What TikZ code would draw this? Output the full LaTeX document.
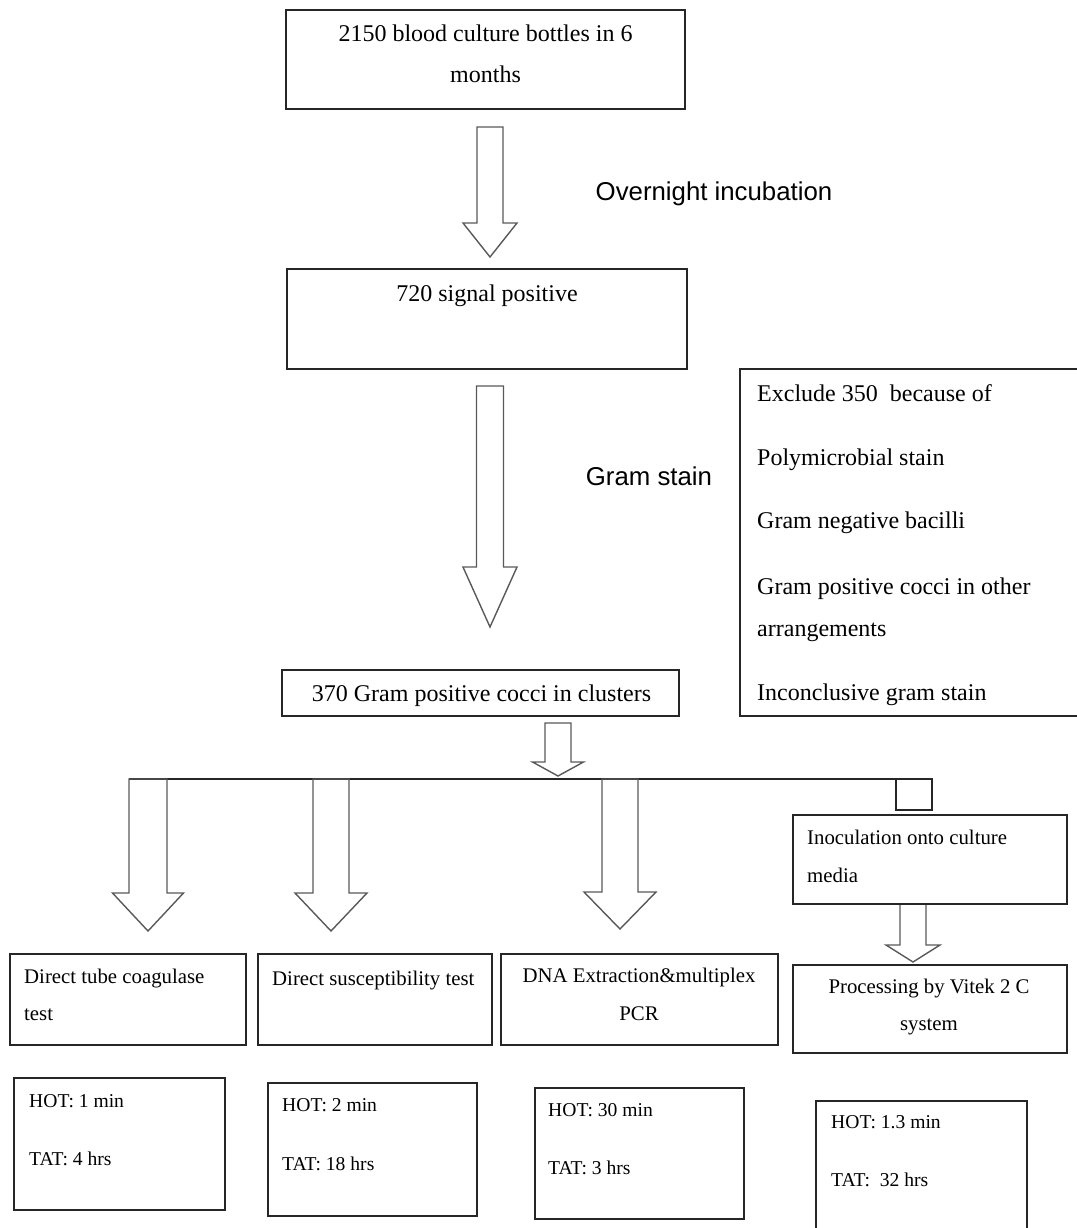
\documentclass[tikz,border=0pt]{standalone}
\usepackage{fontspec}
\setmainfont{Liberation Serif}
\newfontfamily\sansf{Liberation Sans}
\newcommand\blockarr[6]{% cx, half shaft, ytop, yhead, half wing, ytip
  \draw[arr] (#1-#2,#3) -- (#1+#2,#3) -- (#1+#2,#4) -- (#1+#5,#4) -- (#1,#6) -- (#1-#5,#4) -- (#1-#2,#4) -- cycle;}
\begin{document}
\begin{tikzpicture}[x=1pt,y=-1pt,
  box/.style={draw=black!85, line width=1.2pt, inner sep=0pt, fill=none},
  arr/.style={draw=black!65, line width=1.4pt, line join=miter},
  tbig/.style={font=\fontsize{24}{28}\selectfont, inner sep=0pt, anchor=base},
  tbigw/.style={tbig, anchor=base west},
  tmid/.style={font=\fontsize{20.8}{25}\selectfont, inner sep=0pt, anchor=base},
  tmidw/.style={tmid, anchor=base west},
  tsm/.style={font=\fontsize{19.6}{24}\selectfont, inner sep=0pt, anchor=base west},
  tsans/.style={font=\sansf\fontsize{25.8}{30}\selectfont, inner sep=0pt, anchor=base}]
\useasboundingbox (0,0) rectangle (1076,1228);

% main boxes
\node[box, minimum width=399pt, minimum height=99pt] (b1) at (485.5,59.5) {};
\node[tbig] (t1a) at (485.5,42) {2150 blood culture bottles in 6};
\node[tbig] (t1b) at (485.5,83) {months};

\node[box, minimum width=400pt, minimum height=100pt] (b2) at (487,319) {};
\node[tbig] (t2) at (487,301) {720 signal positive};

\node[box, minimum width=397pt, minimum height=46pt] (b3) at (480.5,693) {};
\node[tbig] (t3) at (481.5,701) {370 Gram positive cocci in clusters};

% exclude box (open on the right)
\draw[box] (1080,369) -- (740,369) -- (740,716) -- (1080,716);
\node[tbigw] (e1) at (757,401) {Exclude 350\ \ because of};
\node[tbigw] (e2) at (757,465) {Polymicrobial stain};
\node[tbigw] (e3) at (757,528) {Gram negative bacilli};
\node[tbigw] (e4) at (757,594) {Gram positive cocci in other};
\node[tbigw] (e5) at (757,636) {arrangements};
\node[tbigw] (e6) at (757,700) {Inconclusive gram stain};

% labels
\node[tsans] (lov) at (714,200) {Overnight incubation};
\node[tsans] (lgs) at (649,485) {Gram stain};

% main arrows
\blockarr{490}{13}{127}{223}{27}{257}
\blockarr{490}{13.5}{386}{567}{27}{627}
\blockarr{558}{13}{723}{762}{25.5}{776}

% branch line and small square
\coordinate (hl) at (129,779);
\coordinate (hr) at (932,779);
\draw[box] (hl) -- (hr);
\draw[box] (896,779) rectangle (932,810);

% branch arrows
\blockarr{148}{19}{779}{893}{35.5}{931}
\blockarr{331}{18}{779}{893}{36}{931}
\blockarr{620}{18}{779}{892}{36}{929}
\blockarr{913}{13}{904}{945}{27}{962}

% right column
\node[box, minimum width=274pt, minimum height=89pt] (bi) at (930,859.5) {};
\node[tmidw] (ti1) at (807,844) {Inoculation onto culture};
\node[tmidw] (ti2) at (807,882) {media};

\node[box, minimum width=274pt, minimum height=88pt] (bp) at (930,1009) {};
\node[tmid] (tp1) at (929,993) {Processing by Vitek 2 C};
\node[tmid] (tp2) at (929,1030) {system};

% bottom test boxes
\node[box, minimum width=236pt, minimum height=91pt] (bA) at (128,999.5) {};
\node[tmidw] (tA1) at (24,983) {Direct tube coagulase};
\node[tmidw] (tA2) at (24,1020) {test};

\node[box, minimum width=234pt, minimum height=91pt] (bB) at (375,999.5) {};
\node[tmidw] (tB1) at (272,985) {Direct susceptibility test};

\node[box, minimum width=277pt, minimum height=91pt] (bC) at (639.5,999.5) {};
\node[tmid] (tC1) at (639,982) {DNA Extraction\&multiplex};
\node[tmid] (tC2) at (639,1020) {PCR};

% HOT/TAT boxes
\node[box, minimum width=211pt, minimum height=132pt] (h1) at (119.5,1144) {};
\node[tsm] (h1a) at (29,1107) {HOT: 1 min};
\node[tsm] (h1b) at (29,1165) {TAT: 4 hrs};

\node[box, minimum width=209pt, minimum height=133pt] (h2) at (372.5,1149.5) {};
\node[tsm] (h2a) at (282,1111) {HOT: 2 min};
\node[tsm] (h2b) at (282,1170) {TAT: 18 hrs};

\node[box, minimum width=209pt, minimum height=131pt] (h3) at (639.5,1153.5) {};
\node[tsm] (h3a) at (548,1116) {HOT: 30 min};
\node[tsm] (h3b) at (548,1174) {TAT: 3 hrs};

\draw[box] (816,1232) -- (816,1101) -- (1027,1101) -- (1027,1232);
\node[tsm] (h4a) at (831,1128) {HOT: 1.3 min};
\node[tsm] (h4b) at (831,1186) {TAT:\ \ 32 hrs};
\end{tikzpicture}
\end{document}
